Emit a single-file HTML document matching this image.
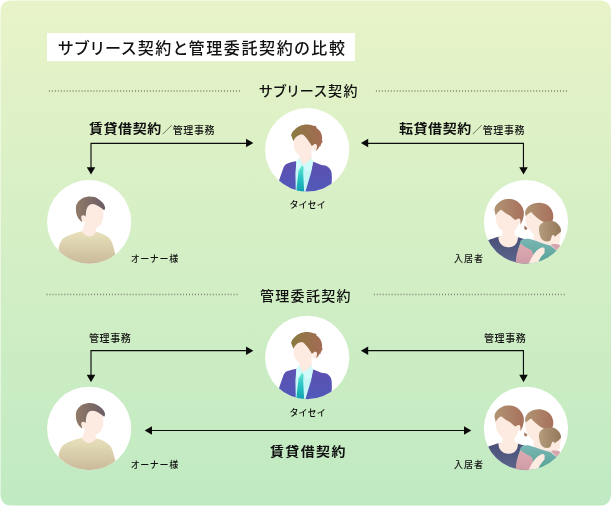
<!DOCTYPE html>
<html lang="ja">
<head>
<meta charset="utf-8">
<title>サブリース契約と管理委託契約の比較</title>
<style>
html,body{margin:0;padding:0;background:#fff;}
body{width:611px;height:506px;overflow:hidden;font-family:"Liberation Sans","Noto Sans CJK JP",sans-serif;color:#111;}
#wrap{position:relative;width:611px;height:506px;overflow:hidden;}
#gfx{position:absolute;left:0;top:0;}
.t{position:absolute;white-space:nowrap;line-height:1;font-feature-settings:"palt" 1;will-change:transform;}
#title{left:47px;top:32.5px;width:308px;height:28.4px;background:#fff;}
#title span{position:absolute;left:11px;top:7px;font-size:16px;font-weight:500;letter-spacing:1.62px;line-height:18px;}
.h{font-size:14px;font-weight:500;letter-spacing:1.3px;}
.b{font-size:14px;font-weight:700;letter-spacing:0.55px;}
.s{font-size:10px;font-weight:500;letter-spacing:0.6px;}
.b .s{margin-left:0.4px;position:relative;top:0.9px;}
.b b{display:inline-block;font-weight:700;transform:scaleY(0.93);transform-origin:50% 90%;}
.l{font-size:9px;font-weight:500;letter-spacing:0.9px;}
</style>
</head>
<body>
<div id="wrap">
<svg id="gfx" width="611" height="506" viewBox="0 0 611 506">
<defs>
  <linearGradient id="bg" x1="0" y1="0" x2="0" y2="1"><stop offset="0" stop-color="#e8f3c8"/><stop offset="1" stop-color="#c0eac2"/></linearGradient>
  <linearGradient id="hairB" x1="0" y1="0" x2="1" y2="0"><stop offset="0" stop-color="#8a7a40"/><stop offset="1" stop-color="#a46a54"/></linearGradient>
  <linearGradient id="suit" x1="0" y1="0" x2="0" y2="1"><stop offset="0" stop-color="#5e50b0"/><stop offset="1" stop-color="#4e5aba"/></linearGradient>
  <linearGradient id="tie" x1="0" y1="0" x2="0" y2="1"><stop offset="0" stop-color="#6ce8d6"/><stop offset="0.4" stop-color="#2cc8c6"/><stop offset="1" stop-color="#0e9cae"/></linearGradient>
  <linearGradient id="hairO" x1="0" y1="0" x2="1" y2="0"><stop offset="0" stop-color="#917a66"/><stop offset="1" stop-color="#6b5c66"/></linearGradient>
  <linearGradient id="shirtO" x1="0" y1="0" x2="0" y2="1"><stop offset="0" stop-color="#e8e1bc"/><stop offset="1" stop-color="#c6b596"/></linearGradient>
  <linearGradient id="hairM" x1="0" y1="0" x2="1" y2="0"><stop offset="0" stop-color="#b09472"/><stop offset="1" stop-color="#a8705c"/></linearGradient>
  <linearGradient id="hairK" x1="0" y1="0" x2="1" y2="0"><stop offset="0" stop-color="#b49c7c"/><stop offset="1" stop-color="#94785a"/></linearGradient>
  <linearGradient id="navy" x1="0" y1="0" x2="0" y2="1"><stop offset="0" stop-color="#4a5078"/><stop offset="1" stop-color="#5e688f"/></linearGradient>
  <linearGradient id="pink" x1="0" y1="0" x2="0" y2="1"><stop offset="0" stop-color="#ddabb1"/><stop offset="1" stop-color="#cc99a4"/></linearGradient>
  <linearGradient id="teal" x1="0" y1="0" x2="0" y2="1"><stop offset="0" stop-color="#7ab6b4"/><stop offset="1" stop-color="#4e9e90"/></linearGradient>
  <clipPath id="cc"><ellipse cx="0" cy="0" rx="42.1" ry="41.8"/></clipPath>

  <!-- businessman, centred on circle centre -->
  <g id="biz">
    <ellipse cx="0" cy="0" rx="42.1" ry="41.8" fill="#fff"/>
    <g clip-path="url(#cc)"><g transform="translate(-307.2,-149.8)">
      <!-- suit -->
      <path d="M277,195 L278.9,180.9 C280.5,176 282.3,171 283.5,167.4 C284.6,165 286,164 287.5,163.4 C290,162.4 293.5,161.7 296.6,161 L313,161.8 C316,162.8 319.5,164.2 322.4,165.3 C324,165.2 325.6,165.3 327,166.2 C329.4,167.6 331,169.8 331.5,172.5 C332,176 331.9,180 331.6,184 L330,195 Z" fill="url(#suit)"/>
      <!-- shirt -->
      <path d="M299.4,158 L296.4,161.2 L295.4,173 L295.8,193 L305,193 L311,173 L313.1,161.8 L311.6,158.4 Z" fill="#c4f6f6"/>
      <path d="M311.6,158.4 L313.1,161.8 L311.4,170 L306.5,171.5 L303,166 Z" fill="#d2fbfb"/>
      <path d="M299.4,158 L296.4,161.2 L296,168 L299,169.5 L302,165.6 Z" fill="#d2fbfb"/>
      <!-- neck -->
      <path d="M299.6,152 L311.4,150 L311.6,158.4 L303.3,165.2 L299.4,158 Z" fill="#fdebe2"/>
      <!-- tie -->
      <path d="M302,165.2 L303.6,167.2 L303.2,173 L304.2,193 L296.4,193 L296.8,186 L298.6,171 Z" fill="url(#tie)"/>
      <!-- face -->
      <path d="M293.8,140 C293.8,143 293.8,146 294.2,148 C294.8,150.5 295.8,152 297,153.2 C298.5,155.2 300.5,157 303.2,157.6 C305.5,157.6 308,156.2 309.5,154.6 C311,152.6 312,150 312.2,146.7 C312.3,142 312,138 310,135.5 C308,133 305,132.5 302.5,132.5 C297,132.5 293.8,136 293.8,140 Z" fill="#fdebe2"/>
      <!-- ear -->
      <path d="M313.2,145.2 C314.2,143.6 316.4,143.6 317,145.2 C317.5,147 316.6,149.8 315,150.8 C313.6,151.4 312.6,150.6 312.4,149 Z" fill="#fdebe2"/>
      <!-- hair -->
      <path d="M291.1,135.3 C291.3,133.6 292.6,131.2 294.8,129.4 C296.2,127.8 297.8,126.8 299.8,125.9 C302,124.9 304.4,124.4 306.7,124.4 C308.8,124.3 310.8,124.7 312.6,125.4 C313.6,125.8 314.6,126 315.4,125.8 L316.5,126.9 L316.4,127.9 C317.8,128.8 319.2,130 320,131.3 C321.2,133 321.8,135 322,136.8 C322.3,138 322.2,139.2 321.9,140.1 L322.8,141.6 L321.8,142.6 C321.7,143.4 321.2,144.2 320.6,144.9 L320.9,145.8 L319.4,146.4 C319.2,147.2 318.8,147.8 318.4,148.2 C317.8,149.2 316.9,150.2 315.8,150.9 C316.6,149.4 317.1,147.6 317,145.6 C316.6,144 315.2,143.6 314,144.5 C313.2,145.2 312.4,146 311.6,145.8 C310.8,144.2 309.8,142.6 308.7,141.2 C307.8,139.8 306.8,138.5 305.7,137.3 C304.8,136.2 303.9,135.3 302.8,134.6 C301.6,134.5 300.4,134.6 299.3,134.9 C298,135.5 296.8,136.3 295.8,137.3 C294.8,138.4 294,139.7 293.4,141.2 C292.8,139 291.8,137 291.1,135.3 Z" fill="url(#hairB)"/>
    </g></g>
  </g>

  <!-- owner -->
  <g id="own">
    <ellipse cx="0" cy="0" rx="42.1" ry="41.8" fill="#fff"/>
    <g clip-path="url(#cc)"><g transform="translate(-89.15,-221.9)">
      <!-- shirt -->
      <path d="M59,268 L58.6,249 C59,245.5 60.2,242.5 61.8,240.1 C63,238.4 64.5,237.4 66.2,236.6 C69,235.2 73,233.6 76.9,232.5 L82.2,231.2 L96.5,232 C98.5,232.4 100.8,233 102.7,233.9 C104.4,234.6 105.9,235.5 107.1,236.6 C108.7,237.7 109.8,238.8 110.7,240.1 C111.8,241.8 112.5,243.6 113,245.5 C113.9,248.5 114.6,251.5 115.3,254.4 L117,268 Z" fill="url(#shirtO)"/>
      <!-- neck -->
      <path d="M85.4,220 L96,226 L95.7,232.4 C94.5,234.6 91.5,236.5 88.9,236.5 C86,236.3 83.3,234.2 82,231.6 C83,229 84.4,225 85.4,220 Z" fill="#fdebe2"/>
      <!-- face -->
      <path d="M86.4,212 C86.4,207.6 89.2,203.8 93.2,203.8 C98.6,203.8 103.1,206.6 103.2,211 C103.5,214.5 103.3,218 102.2,221.4 C101.5,223.6 100.4,225 99.1,226.1 C98.1,227.2 96.9,227.9 95.5,228 C94,228.1 92.6,227.9 91.5,227.4 C90,226.6 88.7,225.6 87.7,224.6 C86.7,223.6 85.8,222.6 85.2,221.4 Z" fill="#fdebe2"/>
      <!-- ear -->
      <path d="M81.2,217.4 C81,215.8 82.2,215 83.2,215.2 C84.4,215.5 85.4,216.6 85.8,218 L85.6,221.4 C84.6,222 83.2,221.8 82.5,220.8 C81.8,219.8 81.4,218.6 81.2,217.4 Z" fill="#fdebe2"/>
      <!-- hair -->
      <path d="M75.9,208.8 C75.8,207.4 76,206 76.4,204.8 C77,203.2 77.8,202 78.8,200.9 C80.2,199.5 81.7,198.5 83.3,197.7 C85,196.9 86.8,196.5 88.7,196.4 C90.7,196.3 92.7,196.5 94.6,197.1 C96.4,197.7 98.1,198.7 99.6,199.9 C101.1,201 102.4,202.3 103.5,203.8 C104.3,204.9 104.8,206.1 105,207.3 C105.2,208.2 105,209.1 104.5,209.9 C104.1,210.1 103.8,210 103.5,209.8 C102.9,209.3 102.2,208.8 101.5,208.3 C100.6,207.6 99.6,206.9 98.6,206.3 C97.6,205.7 96.6,205.2 95.6,204.8 C94.6,204.4 93.7,204.1 92.7,204.1 C91.6,204.1 90.6,204.3 89.7,204.8 C88.9,205.3 88.2,206 87.7,206.8 C87.1,207.7 86.8,208.7 86.5,209.8 C86.2,211.1 86,212.4 85.9,213.7 C85.8,214.7 85.7,215.7 85.6,216.8 C85.2,216 84.3,215.4 83.4,215.2 C82.3,215 81.2,215.8 81.2,217.2 C81.3,218.8 81.8,220.2 82.4,221.9 C80.6,220.9 79.3,219.7 78.3,218.2 C77.4,216.8 76.8,215.3 76.4,213.7 C76,212.1 75.9,210.5 75.9,208.8 Z" fill="url(#hairO)"/>
    </g></g>
  </g>

  <!-- tenant family -->
  <g id="ten">
    <ellipse cx="0" cy="0" rx="42.1" ry="41.8" fill="#fff"/>
    <g clip-path="url(#cc)"><g transform="translate(-525.95,-221.9)">
      <!-- man: navy shirt -->
      <path d="M484,268 L484,242 L488,240.3 C491,239 495,237.6 498.4,236.7 L518.1,237.2 L524,239 L524,268 Z" fill="url(#navy)"/>
      <!-- man: neck -->
      <path d="M503.2,228 L514.2,228 L514.8,234.4 C515.4,235.8 516.6,236.6 518.1,237.3 C518,239 517.6,240.4 517.2,241.8 C516.4,243.6 515.4,244.8 514.1,245.7 C512.8,246.6 511.2,247.1 509.6,247.2 C507.4,247.2 505.4,247 503.7,246.2 C501.8,245.2 500.2,243.6 499.3,241.8 C498.7,240.2 498.4,238.4 498.4,236.7 C500.4,236.4 502,236 502.5,235 Z" fill="#fdebe2"/>
      <!-- man: face -->
      <path d="M495.8,213 C495.6,216 495.6,219 496,220.7 C496.2,221.8 496.4,222.8 496.8,223.7 C497.8,226 499.2,228 500.8,229.6 C501.8,230.6 503,231.5 504.2,232.1 C505.6,232.8 507.2,233.1 508.7,233 C510.4,232.9 512.2,232.4 513.6,231.6 C515,230.6 516.2,229.2 517.1,227.6 C517.9,226.2 518.5,224.6 518.8,223 L519,208 L500,205 Z" fill="#fdebe2"/>
      <!-- man: ear -->
      <path d="M516.6,219.4 C517.6,218 519.6,218 520.2,219.4 C520.6,221 520,223.2 518.8,224.2 C517.6,225 516.4,224.4 516.2,223 Z" fill="#fdebe2"/>
      <!-- man: hair -->
      <path d="M494.4,209.8 C494.6,208 495.3,206.3 496.3,204.9 C497.7,203 499.6,201.5 501.8,200.4 C504,199.4 506.3,199 508.7,199 C511.1,199 513.5,199.4 515.6,200.4 C517.8,201.4 519.7,203 521,204.9 C522.3,206.6 523.2,208.6 523.7,210.8 C524,212.8 523.9,214.8 523.5,216.7 C523.2,218.4 522.7,220.1 522,221.7 C521.5,222.8 520.9,223.8 520.1,224.7 C520.5,223.2 520.6,221.4 520.2,219.6 C519.6,218.2 517.8,218 516.8,219.2 C516,220 515,220 514.1,219.2 C513,218.1 511.9,217.1 510.7,216.2 C509.1,215.1 507.4,214.2 505.7,213.3 C504.2,212.2 502.7,211.1 501.3,209.8 C500,210.4 498.8,211.3 497.8,212.3 C497,213.2 496.3,214.2 495.8,215.4 C495.2,213.6 494.6,211.7 494.4,209.8 Z" fill="url(#hairM)"/>

      <!-- woman: face + neck + baby skin -->
      <path d="M525.8,214 C525.5,217 525.5,219 525.6,220.7 C525.7,222 525.9,223.4 526.3,224.6 C526.9,226.2 527.8,227.7 528.8,229.1 C530,230.7 531.4,232.2 532.8,233.5 C533.4,234.2 533.6,235 533.6,236 L533.6,242 L550,248 L552,236 L548,214 L534,208 Z" fill="#fdebe2"/>
      <path d="M548,232 L560.8,231 C561,232.8 560.9,234.7 560.4,236.5 C560.3,238.1 560.2,239.6 559.8,241.1 C559.5,242.2 559,243.2 558.2,243.9 L556,246 L548,247 L542,242 Z" fill="#fdebe2"/>
      <!-- woman: teal top -->
      <path d="M520.7,240.6 C522,239.6 523.6,239 525.3,238.8 C526.9,238.6 528.5,238.7 530,239.1 C532.2,239.6 534.4,240.3 536.5,241.1 C538.7,241.9 540.9,242.7 543.1,243.4 C545.2,244.1 547.5,244.6 549.6,245.3 C550.8,245.9 551.9,246.7 552.9,247.6 C554.1,248.4 555.2,249.3 556.2,250.3 L570,258 L570,268 L524,268 L518,250 Z" fill="url(#teal)"/>
      <!-- woman: bun -->
      <path d="M524.6,225.6 C525.4,226.4 526.4,227.2 527.4,228 C527.2,229.2 526.4,230.2 525.4,230 C524.2,229.6 523.8,227.2 524.6,225.6 Z" fill="#a87a62"/>
      <!-- woman: hair -->
      <path d="M525.1,213.3 C525,212 525.2,210.8 525.8,209.8 C526.5,208.2 527.5,206.9 528.8,205.9 C530.3,204.8 532,203.9 533.8,203.4 C535.7,202.9 537.7,202.6 539.7,202.7 C541.8,202.8 543.8,203.3 545.6,204.1 C547.3,204.9 548.9,206 550.1,207.4 C551.2,208.7 552,210.2 552.5,211.8 C553,213.2 553.3,214.7 553.3,216.2 C553.4,217.8 553.1,219.3 552.5,220.8 L551,226 L544.6,222.4 C543.6,222 542.6,221.5 541.7,220.9 C540.3,220.1 539,219.2 537.7,218.2 C536.5,217.3 535.3,216.3 534.2,215.3 C533.2,214.3 532.2,213.1 531.3,212 C530,212.6 528.9,213.4 527.8,214.3 C527,214.9 526.4,215.6 525.8,216.3 C525.5,215.3 525.2,214.3 525.1,213.3 Z" fill="url(#hairM)"/>
      <!-- woman: pink sleeve -->
      <path d="M520.7,243.6 C522.2,244.8 523.8,245.9 525.3,246.9 C527.2,248 529.4,248.8 531.2,250.1 C532.4,251.3 533.1,252.9 533.1,254.7 C533.1,257 532.2,259.4 530.5,261.3 L527,268 L515,268 L515.8,262 C515.9,260 516.1,258 516.4,256 C516.8,253.8 517.4,251.6 518.1,249.5 C518.8,247.5 519.7,245.5 520.7,243.6 Z" fill="url(#pink)"/>
      <!-- woman: arm -->
      <path d="M527,267 C528.6,263 530.6,259.4 532.6,256 C533.8,254 535.2,252.2 536.8,250.6 C538.2,249.2 539.9,248.2 541.7,247.6 C542.9,247.3 544.2,247.8 544.6,248.8 C544.9,249.6 544.7,250.4 544.3,251 C544.9,251.6 544.8,252.6 544.2,253.2 C543.2,254.4 542.2,255.4 541.3,256.6 C540.3,258 539.5,259.4 538.8,261 L536,268 Z" fill="#fdebe2"/>
      <!-- baby: pink garment -->
      <path d="M551.3,244.1 C553.8,244 556.3,244.1 558.8,244.4 C559.6,244.6 560.2,245.2 560.2,245.9 L557.4,251.4 L556.2,250 C554.6,248.6 553,247.2 551.6,245.8 Z" fill="#d6a6b0"/>
      <!-- baby: hair -->
      <path d="M538.9,229.1 C538.9,227.9 539.2,226.7 539.7,225.6 C540.4,224.4 541.4,223.4 542.6,222.7 C544.1,221.8 545.8,221.4 547.6,221.2 C549.6,221 551.6,220.9 553.5,221.2 C555.3,221.6 556.8,222.7 558,224.2 C559,225.2 559.8,226.3 560.4,227.6 C560.9,228.6 561.1,229.8 561,231 C560.9,231.5 560.8,231.8 560.6,232 C560,232.6 559.4,233.1 558.8,233.6 C557.9,234.2 557,234.8 556.2,235.5 C555.8,236 555.3,236.5 554.9,236.9 C554.7,236.2 554.3,235.6 553.9,235.2 C553.4,235 552.8,235.1 552.3,235.5 C551.8,236.2 551.5,237 551.3,237.8 C551.1,238.7 550.8,239.6 550.3,240.4 C549.3,241 548.2,241.4 547,241.4 C545.6,241.4 544.3,241 543.1,240.4 C542,239.6 541.1,238.5 540.5,237.2 C539.9,235.6 539.4,233.8 539.2,231.9 C539,231 538.9,230 538.9,229.1 Z" fill="url(#hairK)"/>
    </g></g>
  </g>
  <path id="ah" d="M0.15,0 L-7.15,-4.25 L-7.15,4.25 Z"/>
</defs>

<rect x="0.5" y="0.4" width="610.5" height="505.2" rx="10" ry="10" fill="url(#bg)"/>
<!-- dotted lines -->
<g stroke="#7b8370" stroke-width="1.7" stroke-dasharray="1 1.969" fill="none">
  <path d="M48.9,91 H240 M375.9,91 H567"/>
  <path d="M46.55,294.5 H237.7 M373.8,294.5 H564.9"/>
</g>

<use href="#biz" x="307.2" y="149.8"/>
<use href="#own" x="89.15" y="221.9"/>
<use href="#ten" x="525.95" y="221.9"/>
<use href="#biz" x="307.2" y="357.45"/>
<use href="#own" x="89.15" y="428.45"/>
<use href="#ten" x="525.95" y="428.45"/>

<!-- arrows -->
<g stroke="#0d0d0d" stroke-width="1.15" fill="none">
  <path d="M91,168 V143.35 H247"/>
  <path d="M367,143.35 H523.45 V168"/>
  <path d="M91,376 V350.55 H247"/>
  <path d="M367,350.55 H523.45 V376"/>
  <path d="M151,430.5 H465"/>
</g>
<g fill="#0a0a0a">
  <use href="#ah" transform="translate(253.2,143.1)"/>
  <use href="#ah" transform="translate(91,174.4) rotate(90)"/>
  <use href="#ah" transform="translate(361.05,143.1) rotate(180)"/>
  <use href="#ah" transform="translate(523.5,174.4) rotate(90)"/>
  <use href="#ah" transform="translate(253.2,350.65)"/>
  <use href="#ah" transform="translate(91,382) rotate(90)"/>
  <use href="#ah" transform="translate(361.05,350.65) rotate(180)"/>
  <use href="#ah" transform="translate(523.5,382) rotate(90)"/>
  <use href="#ah" transform="translate(144.85,430.5) rotate(180)"/>
  <use href="#ah" transform="translate(471.15,430.5)"/>
</g>
</svg>

<div id="title" class="t"><span>サブリース契約と管理委託契約の比較</span></div>
<div class="t h" style="left:258.6px;top:84px;">サブリース契約</div>
<div class="t h" style="left:260px;top:288.6px;">管理委託契約</div>

<div class="t b" style="left:89px;top:120.8px;"><b>賃貸借契約</b><span class="s">／管理事務</span></div>
<div class="t b" style="left:399px;top:120.8px;"><b>転貸借契約</b><span class="s">／管理事務</span></div>
<div class="t s" style="left:88.8px;top:333.5px;">管理事務</div>
<div class="t s" style="left:483.8px;top:333.5px;">管理事務</div>
<div class="t b" style="left:270.3px;top:444.2px;letter-spacing:1.35px;"><b>賃貸借契約</b></div>

<div class="t l" style="left:290px;top:200.75px;">タイセイ</div>
<div class="t l" style="left:130.7px;top:254.6px;">オーナー様</div>
<div class="t l" style="left:453.7px;top:254.5px;letter-spacing:1px;">入居者</div>
<div class="t l" style="left:290px;top:408.55px;">タイセイ</div>
<div class="t l" style="left:130.7px;top:461.2px;">オーナー様</div>
<div class="t l" style="left:453.7px;top:461.2px;letter-spacing:1px;">入居者</div>
</div>
</body>
</html>
